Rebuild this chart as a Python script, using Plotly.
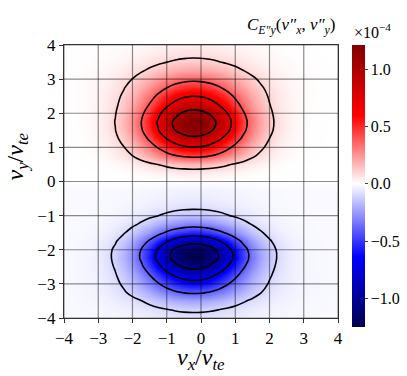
import plotly.graph_objects as go

# grid coordinates (v_x, v_y in units of v_te)
vx = [-4.0, -3.75, -3.5, -3.25, -3.0, -2.75, -2.5, -2.25, -2.0, -1.75, -1.5, -1.25, -1.0, -0.75, -0.5, -0.25,
      0.0, 0.25, 0.5, 0.75, 1.0, 1.25, 1.5, 1.75, 2.0, 2.25, 2.5, 2.75, 3.0, 3.25, 3.5, 3.75, 4.0]
vy = list(vx)

# core profile along v_x (normalised)
x_core = [0.0012, 0.0028, 0.0063, 0.0132, 0.0261, 0.0486, 0.0854, 0.1416, 0.2216, 0.3272, 0.4556,
          0.5988, 0.7425, 0.8688, 0.9590, 0.9988, 0.9816, 0.9101, 0.7962, 0.6572, 0.5118, 0.3761,
          0.2608, 0.1706, 0.1053, 0.0613, 0.0337, 0.0175, 0.0085, 0.0039, 0.0017, 0.0007, 0.0003]
# broader halo profile along v_x (normalised), seen on the outer edges of the lobes
x_halo = [0.0271, 0.0429, 0.0657, 0.0978, 0.1409, 0.1969, 0.2665, 0.3499, 0.4449, 0.5488, 0.6554,
          0.7591, 0.8521, 0.9272, 0.9778, 0.9994, 0.9900, 0.9507, 0.8847, 0.7980, 0.6977, 0.5912,
          0.4855, 0.3865, 0.2982, 0.2230, 0.1616, 0.1135, 0.0773, 0.0510, 0.0326, 0.0202, 0.0122]

# amplitude of the core along v_y (units of 1e-4)
y_core = [-0.026, -0.063, -0.147, -0.328, -0.528, -0.761, -1.029, -1.24, -1.19, -0.90, -0.55, -0.30, -0.14,
          -0.065, -0.035, -0.02, -0.005, 0.045, 0.17, 0.445, 0.69, 0.94, 1.15, 1.21, 1.058, 0.827, 0.616,
          0.416, 0.259, 0.143, 0.0725, 0.0374, 0.0202]
# amplitude of the halo along v_y (units of 1e-4)
y_halo = [-0.024, -0.042, -0.063, -0.082, -0.072, -0.049, -0.021, 0.0, 0.0, 0.0, 0.0, 0.0, 0.0,
          0.0, 0.0, 0.0, 0.0, 0.0, 0.0, 0.0, 0.0, 0.0, 0.0, 0.0, 0.022, 0.053, 0.084,
          0.104, 0.101, 0.077, 0.0525, 0.0346, 0.0218]
# faint uniform level seen in the background (units of 1e-4)
y_background = [-0.015] * 16 + [0.0] * 17

ticks = [-4, -3, -2, -1, 0, 1, 2, 3, 4]
tick_text = [str(t).replace("-", "\u2212") for t in ticks]
cbar_ticks = [-1.0, -0.5, 0.0, 0.5, 1.0]
cbar_ticklabels = ["\u22121.0", "\u22120.5", "0.0", "0.5", "1.0"]
zmin, zmax = -1.25, 1.21

z = [[yc * xc + yh * xh + yb for xc, xh in zip(x_core, x_halo)]
     for yc, yh, yb in zip(y_core, y_halo, y_background)]

mid = -zmin / (zmax - zmin)
seismic = [[0.0, "rgb(0,0,77)"], [0.25, "rgb(0,0,255)"], [mid, "rgb(255,255,255)"],
           [0.75, "rgb(255,0,0)"], [1.0, "rgb(128,0,0)"]]

FONT = "Liberation Serif"

fig = go.Figure()
fig.add_trace(go.Heatmap(
    x=vx, y=vy, z=z, zsmooth="best", colorscale=seismic, zmin=zmin, zmax=zmax,
    colorbar=dict(thickness=13, len=1.033, lenmode="fraction", x=1.051, xanchor="left", xpad=0,
                  y=0.4835, yanchor="middle", ypad=0, outlinewidth=0,
                  tickvals=cbar_ticks, ticktext=cbar_ticklabels, ticks="outside", ticklen=3,
                  tickfont=dict(family=FONT, size=16, color="black")),
))
for start, end in [(0.1, 1.01), (-1.0, -0.09)]:
    fig.add_trace(go.Contour(
        x=vx, y=vy, z=z, showscale=False, hoverinfo="skip",
        contours=dict(coloring="none", start=start, end=end, size=0.3),
        line=dict(color="black", width=1.6, smoothing=1.0),
    ))

shapes = []
for t in ticks:
    shapes.append(dict(type="line", xref="x", yref="paper", x0=t, x1=t, y0=0, y1=1, layer="above",
                       line=dict(color="rgba(0,0,0,0.45)", width=1.2)))
    shapes.append(dict(type="line", xref="paper", yref="y", x0=0, x1=1, y0=t, y1=t, layer="above",
                       line=dict(color="rgba(0,0,0,0.45)", width=1.2)))

axis_common = dict(range=[-4, 4], tickvals=ticks, ticktext=tick_text, showgrid=False, zeroline=False,
                   showline=True, mirror=True, linecolor="#333", linewidth=1.3, ticks="outside",
                   ticklen=4, tickcolor="#333", tickfont=dict(family=FONT, size=17, color="black"))

fig.update_layout(
    width=407, height=376,
    margin=dict(l=64, r=69, t=45, b=58, autoexpand=False),
    paper_bgcolor="white", plot_bgcolor="white",
    xaxis=dict(**axis_common),
    yaxis=dict(**axis_common),
    shapes=shapes,
    showlegend=False,
    annotations=[
        dict(text="<i>v<sub>x</sub></i>/<i>v<sub>te</sub></i>", xref="paper", yref="paper",
             x=0.5, y=-0.152, xanchor="center", yanchor="middle", showarrow=False,
             font=dict(family=FONT, size=24, color="black")),
        dict(text="<i>v<sub>y</sub></i>/<i>v<sub>te</sub></i>", xref="paper", yref="paper",
             x=-0.17, y=0.593, xanchor="center", yanchor="middle", showarrow=False, textangle=-90,
             font=dict(family=FONT, size=24, color="black")),
        dict(text="<i>C<sub>E\u2033y</sub></i>(<i>v\u2033<sub>x</sub></i>, <i>v\u2033<sub>y</sub></i>)",
             xref="paper", yref="paper", x=1.0, y=1.07, xanchor="right", yanchor="middle",
             showarrow=False, font=dict(family=FONT, size=17, color="black")),
        dict(text="\u00d710<sup>\u22124</sup>", xref="paper", yref="paper", x=1.051, y=1.051,
             xanchor="left", yanchor="middle", showarrow=False,
             font=dict(family=FONT, size=16, color="black")),
    ],
)

fig.write_html("out.html", config={"displayModeBar": False},
               post_script="document.body.style.margin='0';document.body.style.overflow='hidden';")
